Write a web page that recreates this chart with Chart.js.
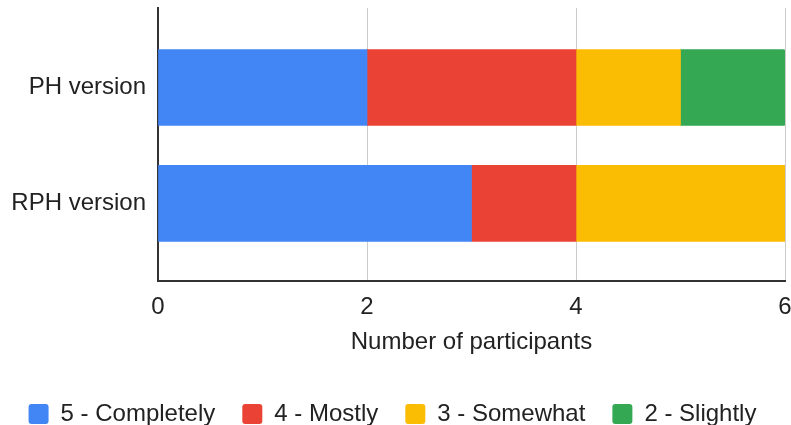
<!DOCTYPE html>
<html>
<head>
<meta charset="utf-8">
<script src="https://cdn.jsdelivr.net/npm/chart.js@4"></script>
<style>
    html, body { margin: 0; padding: 0; background: #fff; }
    #wrap { width: 791px; height: 425px; }
</style>
</head>
<body>
<div id="wrap"><canvas id="chart"></canvas></div>
<script>
const versions = ['PH version', 'RPH version'];
const ratingNames = ['5 - Completely', '4 - Mostly', '3 - Somewhat', '2 - Slightly'];
const completely = [2, 3];
const mostly = [2, 1];
const somewhat = [1, 2];
const slightly = [1, 0];
const xTicks = [0, 2, 4, 6];
const colors = ['#4285F4', '#EA4335', '#FBBC04', '#34A853'];

const font = "'Liberation Sans', Arial, sans-serif";

function toPoints(values) {
    return values.map((v, i) => ({ x: v, y: i }));
}

const series = [completely, mostly, somewhat, slightly];

const datasets = series.map((values, i) => ({
    label: ratingNames[i],
    data: toPoints(values),
    backgroundColor: colors[i],
    borderWidth: 0,
    barThickness: 76,
    borderRadius: i === 3 ? { topRight: 2, bottomRight: 2 } : 0,
    borderSkipped: false
}));

new Chart(document.getElementById('chart'), {
    type: 'bar',
    data: { datasets: datasets },
    options: {
        indexAxis: 'y',
        responsive: true,
        maintainAspectRatio: false,
        animation: false,
        layout: { padding: { top: 8, right: 6, left: 0, bottom: -11 } },
        scales: {
            x: {
                type: 'linear',
                stacked: true,
                min: 0,
                max: 6,
                afterBuildTicks: scale => { scale.ticks = xTicks.map(v => ({ value: v })); },
                afterFit: scale => {
                    scale.paddingLeft = 0;
                    scale.paddingRight = 0;
                    scale.height = 94;
                },
                grid: { color: '#cccccc', drawTicks: false, lineWidth: 1 },
                border: { display: true, color: '#333333', width: 2 },
                ticks: { color: '#222', padding: 12, font: { family: font, size: 24 } },
                title: {
                    display: true,
                    text: 'Number of participants',
                    color: '#222',
                    padding: { top: 0, bottom: 18 },
                    font: { family: font, size: 24 }
                }
            },
            y: {
                type: 'linear',
                stacked: true,
                reverse: true,
                offset: false,
                min: -0.687,
                max: 1.671,
                afterBuildTicks: scale => { scale.ticks = versions.map((v, i) => ({ value: i })); },
                afterFit: scale => {
                    scale.width = 158;
                    scale.paddingTop = 0;
                    scale.paddingBottom = 0;
                },
                grid: { display: false, drawTicks: false },
                border: { display: true, color: '#333333', width: 2 },
                ticks: {
                    color: '#222',
                    padding: 12,
                    font: { family: font, size: 24 },
                    callback: value => versions[value]
                }
            }
        },
        plugins: {
            legend: {
                position: 'bottom',
                align: 'center',
                labels: {
                    color: '#222',
                    boxWidth: 20,
                    boxHeight: 20,
                    useBorderRadius: true,
                    borderRadius: 3,
                    padding: 27,
                    font: { family: font, size: 24 }
                }
            },
            tooltip: { enabled: false }
        }
    }
});
</script>
</body>
</html>
